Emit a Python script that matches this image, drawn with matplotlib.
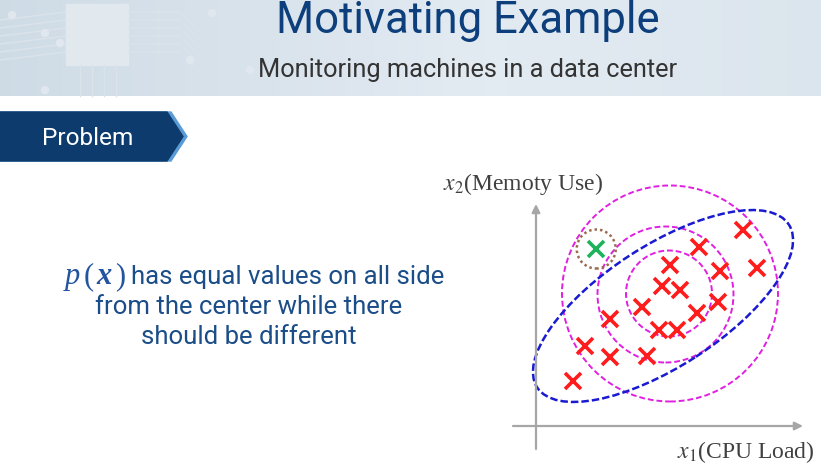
import matplotlib
matplotlib.use('Agg')
import matplotlib.pyplot as plt
import numpy as np
from matplotlib.patches import Ellipse, Circle, Polygon, Rectangle

plt.rcParams['mathtext.fontset'] = 'stix'

# data (chart units: 1 unit = 25 px, origin at the axes crossing)
red_x = [8.28, 6.52, 8.84, 7.36, 5.36, 5.04, 5.76, 7.28, 4.24, 6.44, 2.96, 4.92, 5.64, 1.96, 2.96, 4.44, 1.48]
red_y = [7.84, 7.16, 6.32, 6.20, 6.44, 5.60, 5.44, 4.96, 4.76, 4.52, 4.28, 3.84, 3.84, 3.20, 2.76, 2.80, 1.80]
green_x = [2.41]
green_y = [7.08]
circle_cx = [5.36, 5.18, 5.32]
circle_cy = [5.30, 5.26, 5.30]
circle_r = [4.32, 2.72, 1.72]
blue_center = (5.08, 4.80)
blue_width, blue_height, blue_angle = 11.99, 4.84, 32.9
anom_r = 0.78

title = 'Motivating Example'
subtitle = 'Monitoring machines in a data center'
tab_label = 'Problem'
body_lines = ['has equal values on all side', 'from the center while there', 'should be different']
xlabel = r'$x_1$(CPU Load)'
ylabel = r'$x_2$(Memoty Use)'

SANS = ['Roboto', 'DejaVu Sans']
SERIF = ['Liberation Serif', 'DejaVu Serif']
TXT_BLUE = '#1b4d88'

fig = plt.figure(figsize=(8.21, 4.65), dpi=100)
bg = fig.add_axes([0, 0, 1, 1])
bg.set_xlim(0, 821)
bg.set_ylim(465, 0)
bg.axis('off')
r = fig.canvas.get_renderer()


def fit(t, w):
    cur = t.get_window_extent(r).width
    t.set_fontsize(t.get_fontsize() * w / cur)


# header band
g = np.linspace(0, 1, 200)
c1 = np.array([0.81, 0.86, 0.90])
c2 = np.array([0.89, 0.92, 0.95])
c3 = np.array([0.86, 0.90, 0.93])
grad = np.where(g[:, None] < 0.6, c1 + (c2 - c1) * (g[:, None] / 0.6),
                c2 + (c3 - c2) * ((g[:, None] - 0.6) / 0.4))
bg.imshow(grad[None, :, :], extent=[0, 821, 96, 0], aspect='auto', zorder=0)
# faint circuit decoration
bg.add_patch(Rectangle((66, 4), 62, 61, color='#e1e8ee', zorder=1))
for yy in [12, 20, 28, 36, 44, 52]:
    bg.plot([0, 66], [yy + 8, yy], color='#dbe3ea', lw=1, zorder=1)
    bg.plot([128, 180, 200], [yy, yy, yy + 20], color='#dbe3ea', lw=1, zorder=1)
for xx in [80, 92, 104, 116]:
    bg.plot([xx, xx], [65, 96], color='#dbe3ea', lw=1, zorder=1)
for px, py in [(12, 15), (45, 33), (60, 43), (190, 60), (212, 13), (250, 70), (45, 90)]:
    bg.add_patch(Circle((px, py), 3.5, color='#e0e7ee', zorder=1))

t = bg.text(468, 33, title, family=SANS, color='#0c3f7c', fontsize=30, ha='center', va='baseline')
fit(t, 383)
t = bg.text(468, 77, subtitle, family=SANS, color='#333333', fontsize=16, ha='center', va='baseline')
fit(t, 420)

# Problem tab
bg.add_patch(Polygon([(0, 112), (171, 112), (187, 136.5), (171, 161), (0, 161)],
                     closed=True, color='#5b9bd5', zorder=2))
bg.add_patch(Polygon([(0, 112), (167, 112), (183, 136.5), (167, 161), (0, 161)],
                     closed=True, color='#0d3b6e', zorder=3))
t = bg.text(88, 145, tab_label, family=SANS, color='white', fontsize=16, ha='center', va='baseline', zorder=4)
fit(t, 92)

# body text
t2 = bg.text(249, 314, body_lines[1], family=SANS, color=TXT_BLUE, fontsize=16, ha='center', va='baseline')
fit(t2, 308)
fs = t2.get_fontsize()
bg.text(249, 344, body_lines[2], family=SANS, color=TXT_BLUE, fontsize=fs, ha='center', va='baseline')
bg.text(131, 284, body_lines[0], family=SANS, color=TXT_BLUE, fontsize=fs, ha='left', va='baseline')
x = 65
for s, st, wt in [('p', 'italic', 'normal'), ('(', 'normal', 'normal'),
                  ('x', 'italic', 'bold'), (')', 'normal', 'normal')]:
    tt = bg.text(x, 284, s, family=SERIF, style=st, weight=wt, color='#2354a0',
                 fontsize=22, ha='left', va='baseline')
    x += tt.get_window_extent(r).width + 3

# axis labels
bg.text(443, 190, ylabel, family=SERIF, color='#404040', fontsize=17, ha='left', va='baseline')
bg.text(677, 458, xlabel, family=SERIF, color='#404040', fontsize=17, ha='left', va='baseline')

# chart
ax = fig.add_axes([510 / 821, 13 / 465, 302 / 821, 254 / 465])
ax.set_xlim(-1.04, 11.04)
ax.set_ylim(-1.04, 9.12)
ax.axis('off')
ax.patch.set_alpha(0)

arr = dict(arrowstyle='-|>', color='#a6a6a6', lw=1.6, mutation_scale=12, shrinkA=0, shrinkB=0)
ax.annotate('', xy=(10.68, 0), xytext=(-0.92, 0), arrowprops=arr)
ax.annotate('', xy=(0, 8.88), xytext=(0, -0.92), arrowprops=arr)

for cx, cy, rr in zip(circle_cx, circle_cy, circle_r):
    ax.add_patch(Circle((cx, cy), rr, fill=False, ec='#e020e0', lw=1.4, ls=(0, (3, 1.5)), clip_on=False))
ax.add_patch(Ellipse(blue_center, blue_width, blue_height, angle=blue_angle, fill=False,
                     ec='#1a1ad0', lw=1.8, ls=(0, (3, 1.2)), clip_on=False))
ax.add_patch(Circle((green_x[0], green_y[0]), anom_r, fill=False, ec='#9b6b4f', lw=1.8,
                    ls=(0, (1, 1.2)), clip_on=False))

ax.plot(red_x, red_y, 'x', color='#ff1c1c', ms=12, mew=2.6, ls='none', clip_on=False)
ax.plot(green_x, green_y, 'x', color='#1cb35a', ms=12, mew=2.6, ls='none', clip_on=False)

fig.savefig('out.png', dpi=100)
